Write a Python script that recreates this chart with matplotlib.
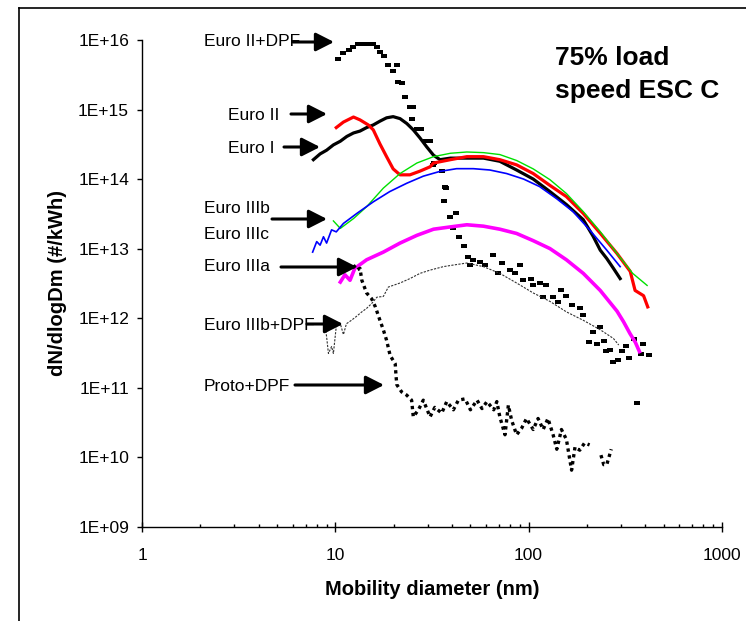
import numpy as np
import matplotlib
matplotlib.use("Agg")
import matplotlib.pyplot as plt
from matplotlib.ticker import FixedLocator, FuncFormatter, LogLocator, NullLocator
from matplotlib.lines import Line2D
from matplotlib.patches import FancyArrowPatch

plt.rcParams['font.family'] = ['Liberation Sans', 'DejaVu Sans']

# --- data (x: nm, y: #/kWh) ---
euro2_dpf_x = [10.3, 11.0, 11.7, 12.4, 13.1, 14.0, 14.8, 15.6, 16.4, 17.0, 17.9, 18.8, 19.8, 20.8,
               21.2, 22.0, 22.9, 24.3, 25.3, 24.8, 26.3, 27.5, 27.9, 29.6, 30.6, 30.8, 32.1, 32.2,
               35.5, 36.9, 37.4, 36.6, 39.3, 42.1, 40.8, 43.8, 46.1, 48.8, 51.8, 50.0, 56.2, 59.6,
               65.7, 69.7, 72.5, 80.0, 90.2, 85.1, 93.1, 103.5, 105.5, 114, 123, 119, 134, 142, 148,
               157, 167, 184, 191, 215, 234, 205, 227, 245, 263, 252, 274, 289, 303, 318, 333, 350,
               390, 380, 421, 366]
euro2_dpf_y = [5.3e15, 6.5e15, 7.2e15, 7.9e15, 8.7e15, 8.9e15, 8.9e15, 8.7e15, 7.9e15, 6.8e15,
               5.8e15, 4.4e15, 3.6e15, 4.3e15, 2.5e15, 2.4e15, 1.5e15, 1.1e15, 1.07e15, 7.4e14,
               5.2e14, 5.2e14, 5.2e14, 3.5e14, 3.5e14, 3.5e14, 1.6e14, 1.7e14, 1.3e14, 7.8e13,
               7.4e13, 4.8e13, 2.8e13, 3.2e13, 2.0e13, 1.45e13, 1.1e13, 7.6e12, 6.8e12, 5.8e12,
               6.5e12, 5.8e12, 8.1e12, 4.4e12, 6.3e12, 5.0e12, 5.9e12, 4.4e12, 3.5e12, 3.7e12,
               3.0e12, 3.2e12, 3.0e12, 2.0e12, 2.0e12, 1.7e12, 2.5e12, 2.1e12, 1.55e12, 1.4e12,
               1.1e12, 6.3e11, 7.4e11, 4.5e11, 4.3e11, 4.7e11, 3.5e11, 3.4e11, 2.3e11, 2.5e11,
               3.4e11, 4.0e11, 2.7e11, 5.0e11, 4.3e11, 3.0e11, 2.9e11, 6.0e10]

euro2_x = [10.1, 11.0, 12.4, 13.4, 14.8, 15.7, 17.0, 18.4, 19.9, 21.6, 24.3, 27.4, 30.9, 32.2, 39.4,
           47.9, 58.4, 71.0, 86.7, 105.7, 129, 157, 192, 235, 287, 336, 356, 394, 414]
euro2_y = [5.5e14, 6.6e14, 7.8e14, 7.1e14, 6.0e14, 5.1e14, 3.2e14, 2.1e14, 1.4e14, 1.15e14, 1.15e14,
           1.3e14, 1.5e14, 1.7e14, 1.9e14, 2.1e14, 2.1e14, 1.9e14, 1.6e14, 1.2e14, 8.1e13, 5.6e13,
           3.2e13, 1.66e13, 8.5e12, 4.7e12, 2.5e12, 2.1e12, 1.45e12]

euro1_x = [7.69, 8.33, 9.0, 9.76, 10.6, 11.45, 12.4, 13.4, 14.5, 15.7, 17.0, 18.4, 19.9, 21.6, 23.4,
           25.3, 27.4, 29.7, 32.2, 34.8, 39.4, 47.9, 58.4, 71.0, 86.7, 105.7, 129, 157, 192, 216,
           235, 254, 275, 298]
euro1_y = [1.9e14, 2.3e14, 2.6e14, 3.1e14, 3.5e14, 4.1e14, 4.6e14, 4.9e14, 5.5e14, 6.0e14, 6.8e14,
           7.6e14, 7.9e14, 7.4e14, 6.3e14, 5.1e14, 3.9e14, 2.9e14, 2.2e14, 1.9e14, 2.0e14, 2.0e14,
           2.0e14, 1.8e14, 1.35e14, 1.0e14, 6.6e13, 4.3e13, 2.6e13, 1.5e13, 9.5e12, 7.2e12,
           5.2e12, 3.7e12]

euro3b_x = [9.76, 10.6, 12.4, 14.5, 17.7, 21.6, 26.4, 32.2, 39.4, 47.9, 58.4, 71.0, 86.7, 105.7,
            129, 157, 192, 235, 287, 346, 411]
euro3b_y = [2.5e13, 1.95e13, 2.7e13, 4.0e13, 7.4e13, 1.2e14, 1.7e14, 2.1e14, 2.35e14, 2.45e14,
            2.4e14, 2.25e14, 1.85e14, 1.4e14, 9.8e13, 6.2e13, 3.4e13, 1.75e13, 8.5e12, 4.4e12,
            2.95e12]

euro3c_x = [7.62, 8.0, 8.33, 8.67, 9.0, 9.55, 10.1, 11.0, 12.9, 15.7, 19.1, 23.4, 28.5, 34.8, 42.4,
            51.8, 63.0, 77.0, 94.2, 114, 140, 170, 207, 254, 298]
euro3c_y = [8.9e12, 1.26e13, 1.12e13, 1.48e13, 1.2e13, 1.86e13, 1.74e13, 2.3e13, 3.2e13, 4.7e13,
            6.6e13, 8.7e13, 1.1e14, 1.29e14, 1.41e14, 1.41e14, 1.35e14, 1.2e14, 1.0e14, 7.8e13,
            5.2e13, 3.4e13, 1.86e13, 9.5e12, 5.5e12]

euro3a_x = [10.6, 11.2, 11.9, 12.6, 14.5, 17.7, 21.6, 26.4, 32.2, 39.4, 47.9, 58.4, 71.0, 86.7,
            105.7, 129, 157, 192, 235, 287, 310, 335, 357, 375]
euro3a_y = [3.3e12, 4.2e12, 3.5e12, 5.2e12, 6.9e12, 8.9e12, 1.2e13, 1.55e13, 1.9e13, 2.05e13,
            2.2e13, 2.1e13, 1.9e13, 1.65e13, 1.3e13, 1.0e13, 6.9e12, 4.4e12, 2.5e12, 1.26e12,
            8.9e11, 6.0e11, 4.5e11, 3.3e11]

euro3b_dpf_x = [8.72, 9.0, 9.2, 9.55, 9.76, 10.1, 10.6, 11.0, 11.4, 12.1, 12.8, 13.7, 14.5, 15.4,
                16.4, 17.7, 18.8, 21.6, 24.3, 27.4, 30.9, 36.2, 40.8, 47.9, 58.4, 71.0, 86.7,
                105.7, 129, 157, 192, 235, 275, 293]
euro3b_dpf_y = [1.05e12, 5.4e11, 3.1e11, 3.9e11, 3.1e11, 7.6e11, 8.3e11, 5.8e11, 8.3e11, 9.3e11,
                1.05e12, 1.23e12, 1.38e12, 1.62e12, 2.0e12, 2.05e12, 2.8e12, 3.2e12, 3.7e12,
                4.4e12, 4.9e12, 5.5e12, 5.8e12, 6.2e12, 5.5e12, 4.4e12, 3.2e12, 2.3e12, 1.74e12,
                1.23e12, 9.3e11, 6.8e11, 5.1e11, 4.1e11]

proto_dpf_x = [12.4, 12.9, 13.4, 13.7, 14.5, 15.4, 16.1, 17.0, 17.7, 18.4, 19.2, 20.4, 20.6, 20.8,
               22.0, 23.4, 24.8, 25.3, 26.9, 28.5, 30.9, 32.7, 35.5, 37.7, 40.8, 43.3, 46.9, 50.0,
               54.1, 57.4, 60.9, 66.0, 68.5, 71.0, 75.5, 78.6, 81.7, 86.7, 92.0, 97.6, 105.7, 112,
               119, 126, 134, 140, 148, 157, 167, 174, 184, 195, 207, 222, 237, 245, 254, 268]
proto_dpf_y = [5.8e12, 4.9e12, 5.2e12, 3.5e12, 2.3e12, 1.9e12, 1.45e12, 9.3e11, 6.8e11, 4.8e11,
               2.9e11, 2.2e11, 1.45e11, 1.1e11, 8.7e10, 7.8e10, 6.6e10, 3.8e10, 4.8e10, 6.6e10,
               3.8e10, 5.2e10, 4.3e10, 6.3e10, 4.8e10, 6.6e10, 6.9e10, 4.8e10, 6.6e10, 5.0e10,
               6.3e10, 4.8e10, 6.3e10, 3.8e10, 2.1e10, 5.6e10, 3.4e10, 2.1e10, 2.6e10, 3.6e10,
               2.5e10, 3.6e10, 2.5e10, 3.6e10, 2.1e10, 1.3e10, 2.5e10, 1.8e10, 6.5e9, 1.4e10,
               1.26e10, 1.6e10, 1.5e10, np.nan, 1.07e10, 7.8e9, 7.8e9, 1.3e10]

y_ticks = [1e9, 1e10, 1e11, 1e12, 1e13, 1e14, 1e15, 1e16]
x_ticks = [1, 10, 100, 1000]

labels = ["Euro II+DPF", "Euro II", "Euro I", "Euro IIIb", "Euro IIIc", "Euro IIIa",
          "Euro IIIb+DPF", "Proto+DPF"]

W, H = 746, 621
fig = plt.figure(figsize=(W / 100, H / 100), dpi=100)


def fx(px):
    return px / W


def fy(py):
    return 1 - py / H


ax = fig.add_axes([fx(142.3), fy(526.7), fx(721.7) - fx(142.3), fy(40) - fy(526.7)])
ax.set_xscale('log')
ax.set_yscale('log')
ax.set_xlim(1, 1000)
ax.set_ylim(1e9, 1e16)

# flat rectangle marker, like the Excel dash markers
rect = [(-1, -0.6), (1, -0.6), (1, 0.6), (-1, 0.6), (-1, -0.6)]
ax.plot(euro2_dpf_x, euro2_dpf_y, ls='none', marker=rect, ms=4.2, color='black', mew=0)
ax.plot(euro1_x, euro1_y, color='black', lw=2.3)
ax.plot(euro2_x, euro2_y, color='#ff0000', lw=2.3)
ax.plot(euro3b_x, euro3b_y, color='#00e000', lw=1.0)
ax.plot(euro3c_x, euro3c_y, color='#0000ff', lw=1.2)
ax.plot(euro3a_x, euro3a_y, color='#ff00ff', lw=2.6)
ax.plot(euro3b_dpf_x, euro3b_dpf_y, color='#333333', lw=0.8, ls=(0, (2, 1.2)))
ax.plot(proto_dpf_x, proto_dpf_y, color='black', lw=2.4, ls=(0, (1, 1.1)))

for s in ['top', 'right']:
    ax.spines[s].set_visible(False)
for s in ['left', 'bottom']:
    ax.spines[s].set_linewidth(1.0)

ax.yaxis.set_major_locator(FixedLocator(y_ticks))
ax.yaxis.set_minor_locator(NullLocator())
ax.yaxis.set_major_formatter(FuncFormatter(lambda v, p: "1E+%02d" % int(round(np.log10(v)))))
ax.xaxis.set_major_locator(FixedLocator(x_ticks))
ax.xaxis.set_minor_locator(LogLocator(base=10, subs=range(2, 10)))
ax.xaxis.set_major_formatter(FuncFormatter(lambda v, p: "%d" % v))
ax.xaxis.set_minor_formatter(FuncFormatter(lambda v, p: ""))
ax.tick_params(axis='y', which='major', direction='out', length=3.5, width=1, labelsize=12.5, pad=6)
ax.tick_params(axis='x', which='major', direction='inout', length=7, width=1, labelsize=12.5, pad=12)
ax.tick_params(axis='x', which='minor', direction='in', length=2.5, width=1)

ax.set_xlabel("Mobility diameter (nm)", fontsize=14.5, fontweight='bold', labelpad=12)
ax.set_ylabel("dN/dlogDm (#/kWh)", fontsize=14.5, fontweight='bold', labelpad=8)

# labels with arrows (figure pixel positions)
label_pos = [(204, 40), (228, 114), (228, 147), (204, 207), (204, 233), (204, 265), (204, 324),
             (204, 385)]
arrows = [(293, 334, 42), (291, 327, 114), (284, 320, 147), (272, 327, 219), None,
          (281, 357, 267), (307, 343, 324), (295, 384, 385)]
for txt, (tx, ty), arr in zip(labels, label_pos, arrows):
    fig.text(fx(tx), fy(ty), txt, fontsize=12.5, ha='left', va='center_baseline')
    if arr is not None:
        x0, x1, yy = arr
        fig.patches.append(FancyArrowPatch(
            (fx(x0), fy(yy)), (fx(x1), fy(yy)), transform=fig.transFigure,
            arrowstyle='-|>,head_length=0.55,head_width=0.28', mutation_scale=20,
            lw=2.2, color='black', shrinkA=0, shrinkB=0))

fig.text(fx(555), fy(65), "75% load", fontsize=19, fontweight='bold', ha='left', va='baseline')
fig.text(fx(555), fy(98), "speed ESC C", fontsize=19, fontweight='bold', ha='left', va='baseline')

# outer frame (left and top edges visible)
fig.add_artist(Line2D([fx(18.5), fx(18.5)], [0, fy(7.5)], transform=fig.transFigure,
                      color='black', lw=1.2))
fig.add_artist(Line2D([fx(18.5), 1], [fy(7.5), fy(7.5)], transform=fig.transFigure,
                      color='black', lw=1.2))

fig.savefig('out.png', dpi=100)
